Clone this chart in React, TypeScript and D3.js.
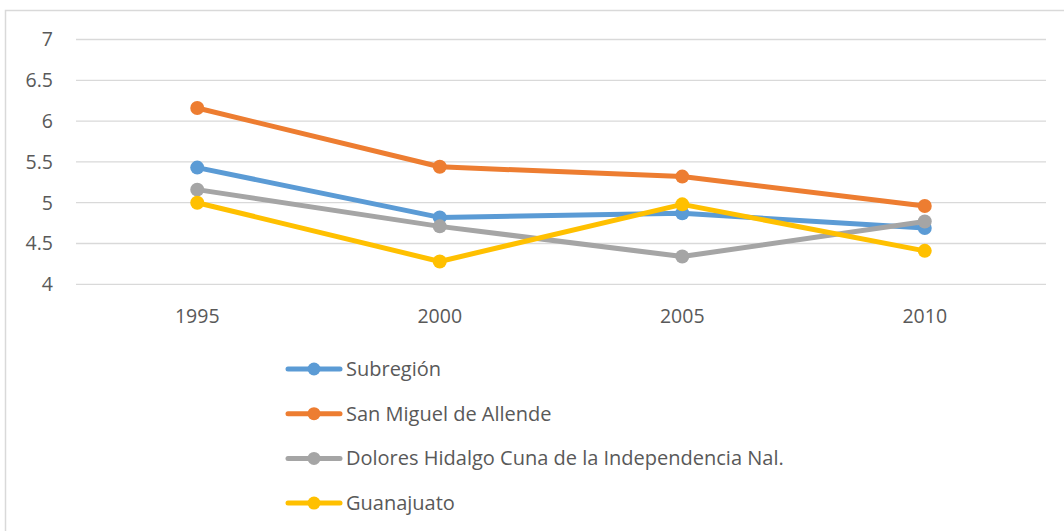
import { useRef, useEffect } from 'react';
import * as d3 from 'd3';

const years = ['1995', '2000', '2005', '2010'];
const seriesNames = [
  'Subregión',
  'San Miguel de Allende',
  'Dolores Hidalgo Cuna de la Independencia Nal.',
  'Guanajuato',
];
const subregion = [5.43, 4.82, 4.87, 4.69];
const sanMiguel = [6.16, 5.44, 5.32, 4.96];
const dolores = [5.16, 4.71, 4.34, 4.77];
const guanajuato = [5.0, 4.28, 4.98, 4.41];
const yTicks = [4, 4.5, 5, 5.5, 6, 6.5, 7];
const colors = ['#5B9BD5', '#ED7D31', '#A5A5A5', '#FFC000'];

export default function App() {
  const svgRef = useRef<SVGSVGElement>(null);

  useEffect(() => {
    const width = 1064;
    const height = 531;
    const svg = d3.select(svgRef.current);
    svg.selectAll('*').remove();

    const font = "'Open Sans', sans-serif";
    const textColor = '#595959';
    const values = [subregion, sanMiguel, dolores, guanajuato];

    // chart frame
    svg.append('rect')
      .attr('x', 5.5).attr('y', 10.5)
      .attr('width', width + 10).attr('height', height + 10)
      .attr('fill', 'white').attr('stroke', '#D9D9D9').attr('stroke-width', 1.5);

    const x = d3.scaleBand().domain(years).range([76, 1046]);
    const y = d3.scaleLinear().domain([4, 7]).range([284.3, 39.5]);

    // gridlines
    svg.append('g')
      .selectAll('line')
      .data(yTicks)
      .join('line')
      .attr('x1', 76).attr('x2', 1046)
      .attr('y1', d => y(d)).attr('y2', d => y(d))
      .attr('stroke', '#D9D9D9').attr('stroke-width', 1.3);

    // y labels
    svg.append('g')
      .selectAll('text')
      .data(yTicks)
      .join('text')
      .attr('x', 53).attr('y', d => y(d))
      .attr('dy', '0.35em')
      .attr('text-anchor', 'end')
      .attr('font-family', font).attr('font-size', 19.5)
      .attr('fill', textColor)
      .text(d => String(d));

    // x labels
    svg.append('g')
      .selectAll('text')
      .data(years)
      .join('text')
      .attr('x', d => x(d)! + x.bandwidth() / 2)
      .attr('y', 316)
      .attr('dy', '0.35em')
      .attr('text-anchor', 'middle')
      .attr('font-family', font).attr('font-size', 19.5)
      .attr('fill', textColor)
      .text(d => d);

    const line = d3.line<number>()
      .x((_, i) => x(years[i])! + x.bandwidth() / 2)
      .y(d => y(d));

    values.forEach((vals, si) => {
      const g = svg.append('g');
      g.append('path')
        .datum(vals)
        .attr('d', line)
        .attr('fill', 'none')
        .attr('stroke', colors[si])
        .attr('stroke-width', 5)
        .attr('stroke-linejoin', 'round')
        .attr('stroke-linecap', 'round');
      g.selectAll('circle')
        .data(vals)
        .join('circle')
        .attr('cx', (_, i) => x(years[i])! + x.bandwidth() / 2)
        .attr('cy', d => y(d))
        .attr('r', 7)
        .attr('fill', colors[si]);
    });

    // legend
    const legend = svg.append('g');
    seriesNames.forEach((name, i) => {
      const ly = 369 + i * 44.7;
      legend.append('line')
        .attr('x1', 288).attr('x2', 340)
        .attr('y1', ly).attr('y2', ly)
        .attr('stroke', colors[i]).attr('stroke-width', 5)
        .attr('stroke-linecap', 'round');
      legend.append('circle')
        .attr('cx', 314).attr('cy', ly).attr('r', 6.5)
        .attr('fill', colors[i]);
      legend.append('text')
        .attr('x', 346).attr('y', ly)
        .attr('dy', '0.35em')
        .attr('font-family', font).attr('font-size', 20)
        .attr('fill', textColor)
        .text(name);
    });
  }, []);

  return (
    <svg
      ref={svgRef}
      width={1064}
      height={531}
      style={{ position: 'absolute', left: 0, top: 0, display: 'block' }}
    />
  );
}
